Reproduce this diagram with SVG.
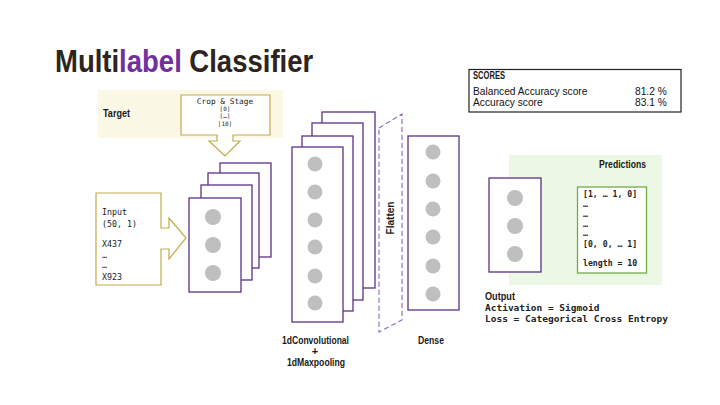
<svg xmlns="http://www.w3.org/2000/svg" width="720" height="405" viewBox="0 0 720 405">
<style>
.layer{fill:#fff;stroke:#5e3188;stroke-width:1.3}
.dot{fill:#bfbfbf}
.gold{fill:#fff;stroke:#c2ab4a;stroke-width:1.2}
.bc{font-family:"Liberation Sans",Arial,sans-serif;font-weight:bold;fill:#1a1a1a}
.mono{font-family:"DejaVu Sans Mono","Liberation Mono",monospace;fill:#222}
.monob{font-family:"DejaVu Sans Mono","Liberation Mono",monospace;font-weight:bold;fill:#222}
.sans{font-family:"Liberation Sans",Arial,sans-serif;fill:#111}
</style>
<rect width="720" height="405" fill="#fff"/>
<g id="title" transform="translate(55,72) scale(0.887,1)">
<text x="0" y="0" class="bc" font-size="31" style="fill:#2d2420">Multi</text>
<text x="72.3" y="0" class="bc" font-size="31" style="fill:#7030a0">label</text>
<text x="151.5" y="0" class="bc" font-size="31" style="fill:#2d2420">Classifier</text>
</g>
<g id="scores">
<rect x="469" y="69.5" width="212" height="42.5" fill="#fff" stroke="#222" stroke-width="1.2"/>
<text x="473" y="79" class="bc" font-size="10" textLength="32" lengthAdjust="spacingAndGlyphs">SCORES</text>
<text x="473" y="95" class="sans" font-size="10.2">Balanced Accuracy score</text>
<text x="635" y="95" class="sans" font-size="10.2">81.2 %</text>
<text x="473" y="106" class="sans" font-size="10.2">Accuracy score</text>
<text x="635" y="106" class="sans" font-size="10.2">83.1 %</text>
</g>
<g id="target">
<rect x="98" y="90" width="185" height="48" fill="#fbf8e6"/>
<text x="103" y="117" class="bc" font-size="11" textLength="27" lengthAdjust="spacingAndGlyphs">Target</text>
<path class="gold" d="M181,95 H270 V135 H233 V141 H240 L225,156 L209,141 H217 V135 H181 Z"/>
<text x="225" y="104" class="mono" font-size="7.8" text-anchor="middle">Crop &amp; Stage</text>
<text x="225" y="111" class="mono" font-size="6" text-anchor="middle">[0]</text>
<text x="225" y="118" class="mono" font-size="6" text-anchor="middle">[…]</text>
<text x="225" y="125.5" class="mono" font-size="6" text-anchor="middle">[10]</text>
</g>
<g id="input">
<path class="gold" d="M96,193 H161 V228 H169 V218 L186,238 L169,259 V249 H161 V285 H96 Z"/>
<text class="mono" font-size="8.3"><tspan x="102" y="215">Input</tspan><tspan x="102" y="227">(50, 1)</tspan><tspan x="102" y="247">X437</tspan><tspan x="102" y="258">…</tspan><tspan x="102" y="268">…</tspan><tspan x="102" y="280">X923</tspan></text>
</g>
<g id="input-layer">
<rect class="layer" x="220" y="163" width="51" height="94"/>
<rect class="layer" x="208" y="173" width="51" height="95"/>
<rect class="layer" x="201" y="185" width="51" height="95"/>
<rect class="layer" x="189" y="198" width="52" height="94"/>
<circle class="dot" cx="213" cy="217" r="8"/>
<circle class="dot" cx="213" cy="245" r="8"/>
<circle class="dot" cx="213" cy="273" r="8"/>
</g>
<g id="conv">
<rect class="layer" x="322" y="112" width="53" height="176"/>
<rect class="layer" x="312" y="123" width="51" height="177"/>
<rect class="layer" x="302" y="136" width="51" height="175"/>
<rect class="layer" x="292" y="147" width="51" height="175"/>
<circle class="dot" cx="315" cy="164" r="7.5"/>
<circle class="dot" cx="315" cy="192" r="7.5"/>
<circle class="dot" cx="315" cy="220" r="7.5"/>
<circle class="dot" cx="315" cy="247" r="7.5"/>
<circle class="dot" cx="315" cy="276" r="7.5"/>
<circle class="dot" cx="315" cy="303" r="7.5"/>
<text x="282" y="344" class="bc" font-size="11" textLength="67" lengthAdjust="spacingAndGlyphs">1dConvolutional</text>
<text x="315" y="355" class="bc" font-size="11" text-anchor="middle">+</text>
<text x="287" y="366" class="bc" font-size="11" textLength="58" lengthAdjust="spacingAndGlyphs">1dMaxpooling</text>
</g>
<g id="flatten">
<path d="M379,128 L402,114 L402,320 L379,332 Z" fill="none" stroke="#9470c0" stroke-width="1.2" stroke-dasharray="5,3"/>
<text transform="translate(394,218) rotate(-90)" class="bc" font-size="10" text-anchor="middle" textLength="33" lengthAdjust="spacingAndGlyphs">Flatten</text>
</g>
<g id="dense">
<rect class="layer" x="408" y="136" width="51" height="174"/>
<circle class="dot" cx="433" cy="152" r="7.5"/>
<circle class="dot" cx="433" cy="181" r="7.5"/>
<circle class="dot" cx="433" cy="209" r="7.5"/>
<circle class="dot" cx="433" cy="237" r="7.5"/>
<circle class="dot" cx="433" cy="266" r="7.5"/>
<circle class="dot" cx="433" cy="294" r="7.5"/>
<text x="418" y="344" class="bc" font-size="11" textLength="26" lengthAdjust="spacingAndGlyphs">Dense</text>
</g>
<g id="predictions">
<rect x="509" y="155" width="153" height="130" fill="#ecf7e4"/>
<text x="599" y="168" class="bc" font-size="11" textLength="47" lengthAdjust="spacingAndGlyphs">Predictions</text>
<rect x="577.5" y="187" width="69" height="86" fill="#fff" stroke="#70ad47" stroke-width="1.3"/>
<text class="monob" font-size="8.2"><tspan x="583" y="197">[1, … 1, 0]</tspan><tspan x="583" y="207">…</tspan><tspan x="583" y="217">…</tspan><tspan x="583" y="227">…</tspan><tspan x="583" y="236">…</tspan><tspan x="583" y="247">[0, 0, … 1]</tspan><tspan x="583" y="266">length = 10</tspan></text>
</g>
<g id="output-layer">
<rect class="layer" x="489" y="178" width="52" height="94"/>
<circle class="dot" cx="515" cy="198" r="8"/>
<circle class="dot" cx="515" cy="226" r="8"/>
<circle class="dot" cx="515" cy="254" r="8"/>
</g>
<g id="output">
<text x="485" y="300" class="bc" font-size="11" textLength="30" lengthAdjust="spacingAndGlyphs">Output</text>
<text x="485" y="311" class="monob" font-size="9.5">Activation = Sigmoid</text>
<text x="485" y="322" class="monob" font-size="9.5">Loss = Categorical Cross Entropy</text>
</g>
<g id="connectors"></g>
</svg>
